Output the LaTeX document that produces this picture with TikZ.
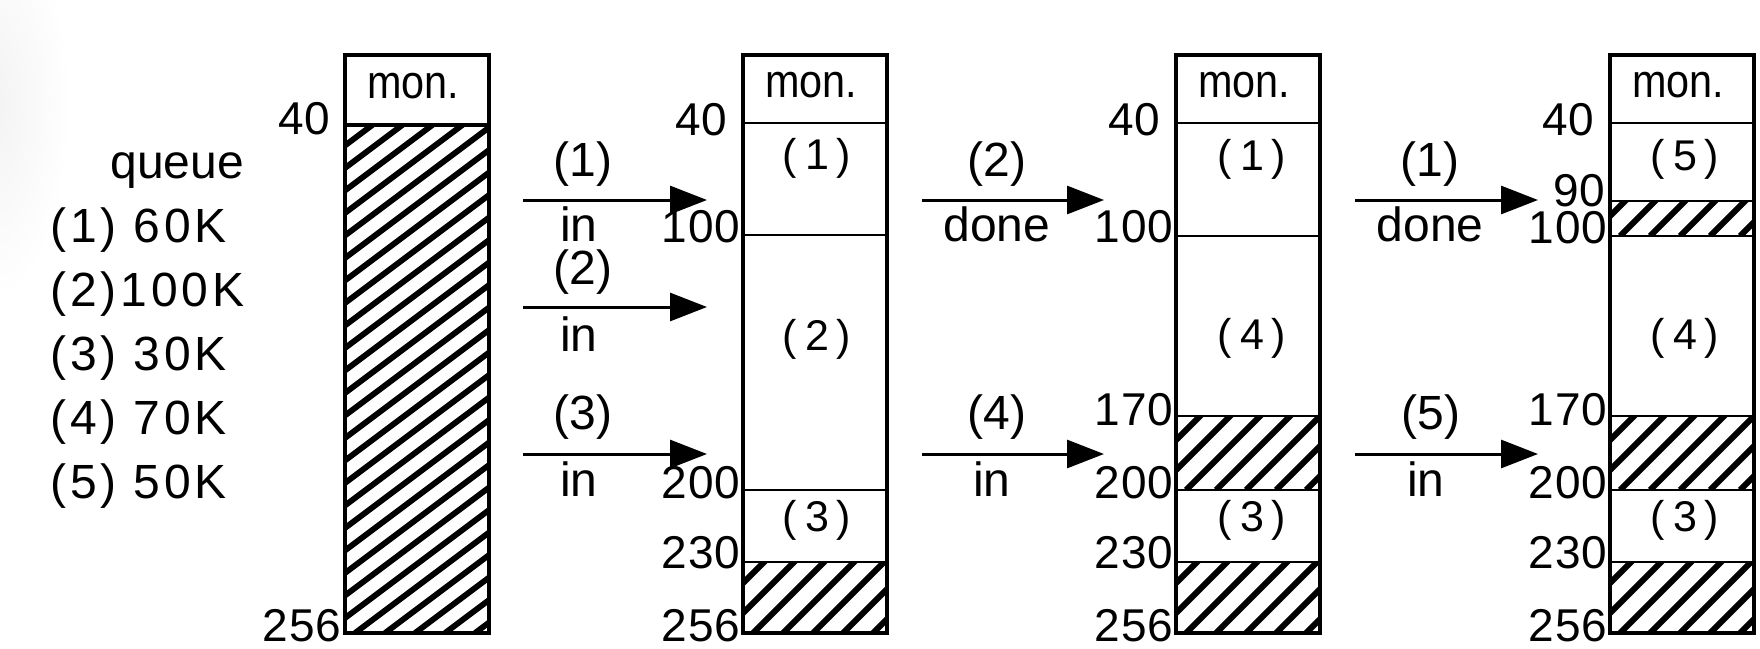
\documentclass[tikz,border=0pt]{standalone}
\usepackage{fontspec}
\setmainfont{Liberation Sans}
\newfontfamily\qfont[LetterSpace=8]{Liberation Sans}
\newfontfamily\nfont[LetterSpace=3]{Liberation Sans}
\usepackage{graphicx}
\usetikzlibrary{arrows.meta,fadings}

\tikzset{
  boxline/.style={line width=2.2pt},
  sepline/.style={line width=1.4pt},
  arr/.style={line width=1.5pt, -{Triangle[length=18.5pt,width=14pt]}},
  num/.style={anchor=base east, inner sep=0pt, font=\fontsize{23pt}{23pt}\nfont},
  lbl/.style={inner sep=0pt, font=\fontsize{24pt}{24pt}\selectfont},
  lblb/.style={anchor=base, inner sep=0pt, font=\fontsize{24pt}{24pt}\selectfont},
  part/.style={inner sep=0pt, font=\fontsize{21.5pt}{21.5pt}\selectfont},
  monl/.style={inner sep=0pt, font=\fontsize{23.5pt}{23.5pt}\selectfont},
  qtxt/.style={anchor=base west, inner sep=0pt, font=\fontsize{24pt}{24pt}\qfont},
}
\tikzfading[name=softfade, inner color=transparent!30, outer color=transparent!100]

% #1 x1, #2 y1, #3 x2, #4 y2, #5 slope, #6 stripe width
\newcommand\hatchrect[6]{%
  \begin{scope}
    \clip (#1,#2) rectangle (#3,#4);
    \foreach \k in {0,...,40} {
      \draw[line width=#6] ({#1-800+\k*30},#4) -- ++(1000,{-1000*#5});
    }
  \end{scope}}
\newcommand\pp[1]{(\kern4pt#1\kern4pt)}
\newcommand\monlabel{\scalebox{0.88}[1]{mon.}}

\begin{document}
\begin{tikzpicture}[x=0.5pt,y=-0.5pt]
\useasboundingbox (0,0) rectangle (1760,648);

% faint shadow at the top-left corner
\fill[black!7, path fading=softfade] (-90,-90) rectangle (70,300);

% ---------- queue ----------
\node[anchor=base west, inner sep=0pt, font=\fontsize{24pt}{24pt}\selectfont] (qh) at (110,178) {queue};
\node[qtxt] (q1) at (50,242) {(1) 60K};
\node[qtxt] (q2) at (50,306) {(2)100K};
\node[qtxt] (q3) at (50,370) {(3) 30K};
\node[qtxt] (q4) at (50,434) {(4) 70K};
\node[qtxt] (q5) at (50,498) {(5) 50K};

% ---------- column 1 ----------
\hatchrect{345}{125}{489}{633}{0.75}{2.9pt}
\draw[boxline] (345,125) -- (489,125);
\draw[boxline] (345,55) rectangle (489,633);
\node[monl] (m1) at (413,86) {\monlabel};
\node[num] (c1n40) at (331,134) {40};
\node[num] (c1n256) at (342,641) {256};

% ---------- arrows set 1 ----------
\coordinate (a1s) at (523,200); \coordinate (a1e) at (707,200);
\coordinate (a2s) at (523,307); \coordinate (a2e) at (707,307);
\coordinate (a3s) at (523,454); \coordinate (a3e) at (707,454);
\draw[arr] (a1s) -- (a1e);
\draw[arr] (a2s) -- (a2e);
\draw[arr] (a3s) -- (a3e);
\node[lbl] (l1a) at (583,164) {(1)};
\node[lblb] (l1b) at (579,241) {in};
\node[lbl] (l2a) at (583,272) {(2)};
\node[lblb] (l2b) at (579,351) {in};
\node[lbl] (l3a) at (583,417) {(3)};
\node[lblb] (l3b) at (579,496) {in};

% ---------- column 2 ----------
\hatchrect{743}{562}{887}{633}{1}{3pt}
\foreach \yy in {123,235,490,562} {\draw[sepline] (743,\yy) -- (887,\yy);}
\draw[boxline] (743,55) rectangle (887,633);
\node[monl] (m2) at (811,85) {\monlabel};
\node[part] (p21) at (817,158) {\pp{1}};
\node[part] (p22) at (817,339) {\pp{2}};
\node[part] (p23) at (817,520) {\pp{3}};
\node[num] (c2n40) at (728,135) {40};
\node[num] (c2n100) at (741,242) {100};
\node[num] (c2n200) at (741,498) {200};
\node[num] (c2n230) at (741,568) {230};
\node[num] (c2n256) at (741,641) {256};

% ---------- arrows set 2 ----------
\coordinate (b1s) at (922,200); \coordinate (b1e) at (1104,200);
\coordinate (b2s) at (922,454); \coordinate (b2e) at (1104,454);
\draw[arr] (b1s) -- (b1e);
\draw[arr] (b2s) -- (b2e);
\node[lbl] (k1a) at (997,164) {(2)};
\node[lblb] (k1b) at (997,241) {done};
\node[lbl] (k2a) at (997,417) {(4)};
\node[lblb] (k2b) at (992,496) {in};

% ---------- column 3 ----------
\hatchrect{1176}{416}{1320}{490}{1}{3pt}
\hatchrect{1176}{562}{1320}{633}{1}{3pt}
\foreach \yy in {123,236,416,490,562} {\draw[sepline] (1176,\yy) -- (1320,\yy);}
\draw[boxline] (1176,55) rectangle (1320,633);
\node[monl] (m3) at (1244,85) {\monlabel};
\node[part] (p31) at (1252,159) {\pp{1}};
\node[part] (p34) at (1252,338) {\pp{4}};
\node[part] (p33) at (1252,520) {\pp{3}};
\node[num] (c3n40) at (1161,135) {40};
\node[num] (c3n100) at (1174,242) {100};
\node[num] (c3n170) at (1174,425) {170};
\node[num] (c3n200) at (1174,498) {200};
\node[num] (c3n230) at (1174,568) {230};
\node[num] (c3n256) at (1174,641) {256};

% ---------- arrows set 3 ----------
\coordinate (d1s) at (1355,200); \coordinate (d1e) at (1538,200);
\coordinate (d2s) at (1355,454); \coordinate (d2e) at (1538,454);
\draw[arr] (d1s) -- (d1e);
\draw[arr] (d2s) -- (d2e);
\node[lbl] (e1a) at (1430,164) {(1)};
\node[lblb] (e1b) at (1430,241) {done};
\node[lbl] (e2a) at (1431,417) {(5)};
\node[lblb] (e2b) at (1426,496) {in};

% ---------- column 4 ----------
\hatchrect{1610}{201}{1754}{236}{1}{3pt}
\hatchrect{1610}{416}{1754}{490}{1}{3pt}
\hatchrect{1610}{562}{1754}{633}{1}{3pt}
\foreach \yy in {123,201,236,416,490,562} {\draw[sepline] (1610,\yy) -- (1754,\yy);}
\draw[boxline] (1610,55) rectangle (1754,633);
\node[monl] (m4) at (1678,85) {\monlabel};
\node[part] (p45) at (1685,159) {\pp{5}};
\node[part] (p44) at (1685,338) {\pp{4}};
\node[part] (p43) at (1685,520) {\pp{3}};
\node[num] (c4n40) at (1595,135) {40};
\node[num] (c4n90) at (1606,206) {90};
\node[num] (c4n100) at (1608,243) {100};
\node[num] (c4n170) at (1608,425) {170};
\node[num] (c4n200) at (1608,498) {200};
\node[num] (c4n230) at (1608,568) {230};
\node[num] (c4n256) at (1608,641) {256};
\end{tikzpicture}
\end{document}
